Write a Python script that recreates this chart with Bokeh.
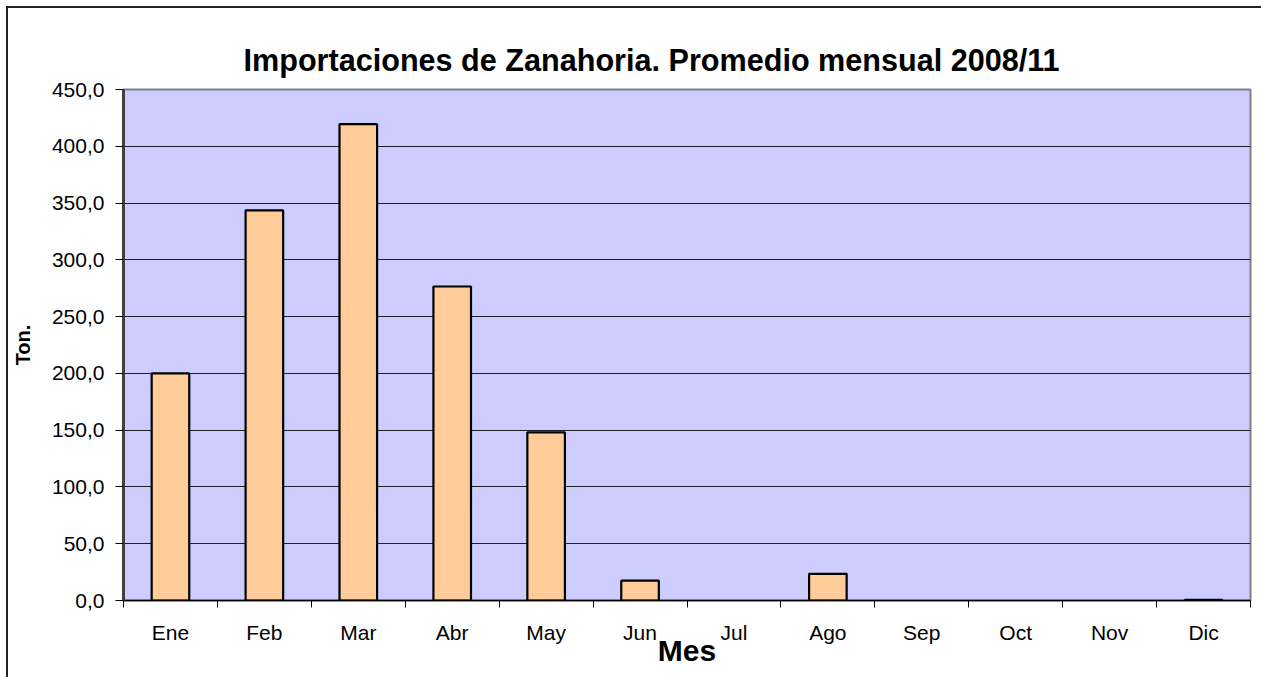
from bokeh.plotting import figure
from bokeh.models import Range1d, FixedTicker, CustomJSTickFormatter, ColumnDataSource
from bokeh.embed import file_html
from bokeh.resources import INLINE

months = ["Ene", "Feb", "Mar", "Abr", "May", "Jun", "Jul", "Ago", "Sep", "Oct", "Nov", "Dic"]
tons = [200.0, 343.5, 419.5, 276.5, 148.0, 17.5, 0.0, 23.5, 0.0, 0.0, 0.0, 0.5]
y_ticks = [0, 50, 100, 150, 200, 250, 300, 350, 400, 450]
title_text = "Importaciones de Zanahoria. Promedio mensual 2008/11"
x_title = "Mes"
y_title = "Ton."

FONT = "Liberation Sans"

centers = [i + 0.5 for i in range(len(months))]
source = ColumnDataSource(dict(
    x=centers, top=tons,
    line_alpha=[1.0 if v > 0 else 0.0 for v in tons],
))

p = figure(width=1261, height=677, output_backend="svg", toolbar_location=None,
           x_range=Range1d(0, len(months)), y_range=Range1d(0, 450),
           min_border_left=123, min_border_right=11, min_border_top=89, min_border_bottom=77,
           title=title_text)
p.styles = {"background": "white",
            "box-shadow": "inset 6px 6px 0 0 white, inset 8px 8px 0 0 #222"}

p.background_fill_color = "#CCCCFF"
p.border_fill_alpha = 0
p.outline_line_color = "#808080"
p.outline_line_width = 2

p.title.text_font = FONT
p.title.text_font_size = "30.6px"
p.title.text_font_style = "bold"
p.title.text_color = "black"
p.title.align = "left"
p.title.offset = 120
p.title.standoff = 26

p.vbar(x="x", top="top", width=0.4, bottom=0, source=source,
       fill_color="#FFCC99", line_color="black", line_alpha="line_alpha", line_width=2.2)

# x axis: labels at centres, tick marks at boundaries
p.xaxis.ticker = FixedTicker(ticks=centers, minor_ticks=list(range(len(months) + 1)))
p.xaxis.major_label_overrides = {c: m for c, m in zip(centers, months)}
p.xaxis.major_tick_out = 0
p.xaxis.major_tick_in = 0
p.xaxis.minor_tick_out = 7
p.xaxis.minor_tick_in = 0
p.xaxis.minor_tick_line_color = "black"
p.xaxis.axis_line_color = "black"
p.xaxis.axis_line_width = 1.5
p.xaxis.major_label_text_font = FONT
p.xaxis.major_label_text_font_size = "21px"
p.xaxis.major_label_text_color = "black"
p.xaxis.major_label_standoff = 13
p.xaxis.axis_label = x_title
p.xaxis.axis_label_text_font = FONT
p.xaxis.axis_label_text_font_size = "30px"
p.xaxis.axis_label_text_font_style = "bold"
p.xaxis.axis_label_text_color = "black"
p.xaxis.axis_label_standoff = -13

p.yaxis.ticker = FixedTicker(ticks=y_ticks)
p.yaxis.formatter = CustomJSTickFormatter(code="return tick.toFixed(1).replace('.', ',');")
p.yaxis.major_tick_out = 8
p.yaxis.major_tick_in = 0
p.yaxis.minor_tick_line_color = None
p.yaxis.axis_line_color = "#404040"
p.yaxis.axis_line_width = 3
p.yaxis.major_label_text_font = FONT
p.yaxis.major_label_text_font_size = "21px"
p.yaxis.major_label_text_color = "black"
p.yaxis.major_label_standoff = 11
p.yaxis.axis_label = y_title
p.yaxis.axis_label_text_font = FONT
p.yaxis.axis_label_text_font_size = "20px"
p.yaxis.axis_label_text_font_style = "bold"
p.yaxis.axis_label_text_color = "black"
p.yaxis.axis_label_standoff = 15

p.xgrid.grid_line_color = None
p.ygrid.ticker = FixedTicker(ticks=y_ticks[1:-1])
p.ygrid.grid_line_color = "black"
p.ygrid.grid_line_width = 1
p.ygrid.grid_line_alpha = 0.85

open("out.html", "w").write(file_html(p, INLINE))
